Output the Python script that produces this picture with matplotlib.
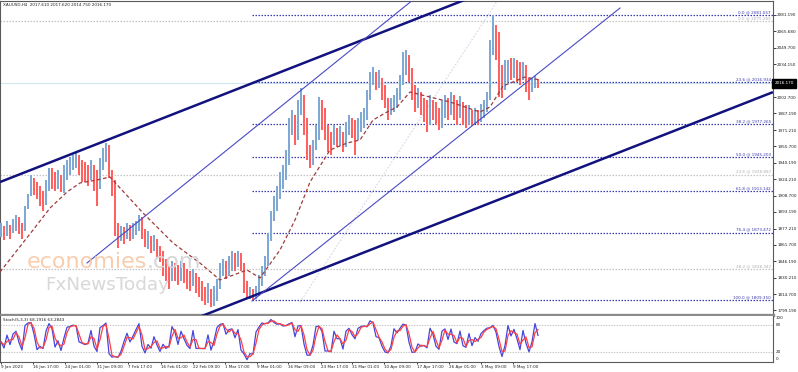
import numpy as np
import matplotlib
matplotlib.use("Agg")
import matplotlib.pyplot as plt
from matplotlib.transforms import blended_transform_factory as blend

# ---------------- data ----------------
header_text = "XAUUSD,H4  2017.610 2017.620 2014.750 2016.170"
stoch_text = "Stoch(5,3,3) 68.1916 63.2843"
last_price = 2016.17

bar_high = [
    1883.0, 1880.1, 1884.9, 1881.1, 1886.8, 1890.7, 1888.8, 1883.0, 1899.3, 1910.7,
    1928.0, 1925.1, 1921.3, 1917.5, 1913.6, 1923.2, 1934.7, 1934.7, 1930.9, 1932.8,
    1928.0, 1937.5, 1942.3, 1945.2, 1947.1, 1950.0, 1947.1, 1942.3, 1940.4, 1937.5,
    1942.3, 1937.5, 1932.8, 1944.4, 1953.8, 1958.6, 1956.7, 1932.8, 1923.2, 1883.0,
    1880.1, 1879.2, 1883.0, 1881.1, 1883.0, 1884.9, 1890.7, 1888.8, 1877.3, 1875.4,
    1870.6, 1871.6, 1867.7, 1861.0, 1856.2, 1848.6, 1841.9, 1846.7, 1844.8, 1842.9,
    1846.7, 1844.8, 1839.0, 1837.1, 1839.0, 1835.2, 1831.4, 1827.5, 1821.8, 1825.6,
    1819.9, 1822.7, 1829.4, 1844.8, 1848.6, 1846.7, 1851.4, 1856.2, 1854.3, 1856.2,
    1854.3, 1844.8, 1827.5, 1821.8, 1819.9, 1822.7, 1833.3, 1841.9, 1851.4, 1873.5,
    1894.5, 1908.8, 1918.4, 1930.9, 1937.5, 1951.9, 1982.5, 1990.2, 1985.4, 1999.7,
    2011.2, 2004.5, 1982.5, 1956.7, 1961.5, 1975.8, 2002.6, 1999.7, 1992.1, 1975.8,
    1969.1, 1975.8, 1973.0, 1974.8, 1969.1, 1978.7, 1985.4, 1982.5, 1980.6, 1982.5,
    1988.2, 1992.1, 2009.3, 2026.5, 2031.3, 2026.5, 2028.4, 2020.8, 2014.1, 2001.6,
    2001.6, 2004.5, 2011.2, 2023.7, 2045.7, 2047.6, 2042.8, 2030.4, 2014.1, 2011.2,
    2007.4, 2001.6, 1999.7, 2004.5, 1999.7, 1997.8, 1992.1, 1999.7, 2004.5, 2001.6,
    2007.4, 2004.5, 1999.7, 2003.6, 1997.8, 1995.0, 1995.0, 1990.2, 1992.1, 1990.2,
    1996.0, 1999.7, 2007.4, 2057.1, 2081.06, 2071.5, 2064.8, 2033.2, 2038.0, 2038.0,
    2039.9, 2039.9, 2038.0, 2036.1, 2036.1, 2033.2, 2020.8, 2020.8, 2022.7, 2019.8]

bar_low = [
    1869.6, 1866.8, 1870.6, 1867.7, 1873.5, 1875.4, 1872.5, 1867.7, 1875.4, 1896.4,
    1908.8, 1909.8, 1906.0, 1899.3, 1894.5, 1900.2, 1913.6, 1915.5, 1913.6, 1915.5,
    1912.6, 1911.7, 1923.2, 1928.0, 1932.8, 1934.7, 1928.0, 1921.3, 1921.3, 1918.4,
    1923.2, 1913.6, 1899.3, 1915.5, 1932.8, 1940.4, 1925.1, 1908.8, 1870.6, 1859.1,
    1865.8, 1863.0, 1867.7, 1865.8, 1867.7, 1871.6, 1875.4, 1867.7, 1860.0, 1858.1,
    1854.3, 1856.2, 1850.5, 1845.7, 1832.3, 1827.5, 1819.9, 1827.5, 1827.5, 1823.7,
    1827.5, 1825.6, 1819.9, 1818.0, 1822.7, 1816.1, 1812.2, 1808.4, 1804.6, 1806.5,
    1802.7, 1803.6, 1808.4, 1819.9, 1832.3, 1829.4, 1832.3, 1837.1, 1837.1, 1840.9,
    1837.1, 1816.1, 1810.5, 1810.0, 1809.35, 1810.3, 1813.2, 1822.7, 1832.3, 1841.9,
    1865.8, 1884.9, 1894.5, 1906.0, 1915.5, 1923.2, 1937.5, 1966.2, 1956.7, 1961.5,
    1985.4, 1966.2, 1942.3, 1934.7, 1937.5, 1951.9, 1961.5, 1971.0, 1961.5, 1949.9,
    1947.1, 1956.7, 1954.8, 1955.7, 1949.9, 1954.8, 1966.2, 1963.4, 1947.1, 1961.5,
    1969.1, 1972.9, 1980.6, 1999.7, 2014.1, 2009.3, 2011.2, 1999.7, 1992.1, 1980.6,
    1985.4, 1988.2, 1992.1, 1999.7, 2014.1, 2023.7, 2017.0, 1999.7, 1988.2, 1992.1,
    1985.4, 1978.7, 1969.1, 1975.8, 1980.6, 1975.8, 1971.0, 1972.9, 1982.5, 1980.6,
    1985.4, 1980.6, 1975.8, 1982.5, 1975.8, 1972.9, 1975.8, 1974.8, 1976.8, 1975.8,
    1978.7, 1982.5, 1988.2, 1999.7, 2042.8, 2038.0, 2002.6, 2001.6, 2009.3, 2017.0,
    2018.9, 2020.8, 2017.0, 2014.1, 2018.9, 2007.4, 1999.7, 2007.4, 2011.2, 2011.2]

bar_close = [
    1875.4, 1871.6, 1877.3, 1873.5, 1879.2, 1883.0, 1880.1, 1873.5, 1892.6, 1904.1,
    1920.3, 1915.5, 1911.7, 1907.9, 1902.1, 1913.6, 1928.0, 1925.1, 1920.3, 1923.2,
    1917.5, 1925.1, 1934.7, 1937.5, 1942.3, 1945.2, 1937.5, 1932.8, 1930.9, 1928.0,
    1934.7, 1923.2, 1908.8, 1932.8, 1942.3, 1951.9, 1930.9, 1913.6, 1880.1, 1865.8,
    1873.5, 1869.6, 1875.4, 1871.6, 1875.4, 1879.2, 1886.8, 1875.4, 1865.8, 1869.6,
    1861.0, 1865.8, 1858.1, 1851.4, 1845.7, 1837.1, 1832.3, 1841.9, 1837.1, 1832.3,
    1839.0, 1835.2, 1829.4, 1825.6, 1832.3, 1822.7, 1819.9, 1816.1, 1812.2, 1818.0,
    1808.4, 1813.2, 1822.7, 1837.1, 1841.9, 1837.1, 1844.8, 1848.6, 1844.8, 1850.5,
    1841.9, 1822.7, 1812.2, 1816.1, 1812.2, 1818.0, 1827.5, 1837.1, 1844.8, 1865.8,
    1889.7, 1899.3, 1908.8, 1923.2, 1928.0, 1942.3, 1971.0, 1980.6, 1966.2, 1990.2,
    1999.7, 1980.6, 1951.9, 1944.4, 1951.9, 1966.2, 1988.2, 1985.4, 1971.0, 1961.5,
    1956.7, 1966.2, 1961.5, 1965.3, 1956.7, 1969.1, 1975.8, 1972.9, 1966.2, 1972.9,
    1978.7, 1985.4, 1999.7, 2020.8, 2023.7, 2017.0, 2020.8, 2009.3, 1999.7, 1988.2,
    1992.1, 1997.8, 2001.6, 2014.1, 2036.1, 2038.0, 2028.4, 2009.3, 1999.7, 2004.5,
    1995.0, 1990.2, 1980.6, 1995.0, 1990.2, 1985.4, 1978.7, 1990.2, 1995.0, 1988.2,
    1999.7, 1992.1, 1988.2, 1995.0, 1985.4, 1982.5, 1988.2, 1980.6, 1985.4, 1982.5,
    1988.2, 1992.1, 1999.7, 2038.0, 2061.9, 2052.3, 2028.4, 2009.3, 2023.7, 2030.4,
    2026.5, 2033.2, 2028.4, 2020.8, 2030.4, 2018.9, 2007.4, 2014.1, 2018.9, 2016.17]

first_open = 1872.0
bar_every = 3          # one sampled H4 bar out of every 3

# moving average (position in H4 bars, price)
ma_pos = [0, 33, 50, 67, 80, 97, 110, 143, 173, 200, 220, 247, 260, 280, 295,
          310, 330, 347, 360, 373, 387, 397, 410, 430, 450, 480, 490, 503, 525, 540]
ma_val = [1835.9, 1875.9, 1896.9, 1912.2, 1920.8, 1923.7, 1926.5, 1892.2, 1863.6,
          1844.4, 1828.3, 1837.8, 1830.2, 1856.9, 1885.5, 1921.7, 1952.3, 1958.9,
          1961.8, 1980.9, 1988.5, 1993.3, 2007.6, 2002.8, 1998.1, 1988.5, 1993.3,
          2013.3, 2021.9, 2019.1]

# Fibonacci retracement (blue) anchored at 9 Mar low
fib_start = 252
fib_labels = ["0.0 @ 2081.057", "23.6 @ 2016.934", "38.2 @ 1977.265", "50.0 @ 1945.203",
              "61.8 @ 1913.142", "76.4 @ 1873.472", "100.0 @ 1809.350"]
fib_prices = [2081.057, 2016.934, 1977.265, 1945.203, 1913.142, 1873.472, 1809.350]
# older Fibonacci (grey)
fib2_labels = ["0.0 @ 2075.289", "23.6 @ 1928.887", "38.2 @ 1838.347"]
fib2_prices = [2075.289, 1928.887, 1838.347]

# trend channels: (bar position, price) anchors
thick_upper = ([0, 480], [1921.7, 2101.2])
thick_lower = ([200, 773], [1793.2, 2007.5])
thin_upper = ([87, 413], [1844.5, 2095.5])
thin_lower = ([252, 620], [1808.2, 2087.7])
faint_mid = ([300, 497], [1807.0, 2094.0])

price_ticks = [2081.190, 2065.680, 2049.700, 2034.150, 2002.700, 1987.190,
               1971.210, 1955.700, 1940.190, 1924.210, 1908.700, 1893.190, 1877.210,
               1861.700, 1846.190, 1830.210, 1814.700, 1799.190]

date_pos = [1, 33, 65, 97, 128, 161, 193, 225, 257, 288, 321, 352, 384, 417, 449, 481, 513]
date_labels = ["9 Jan 2023", "16 Jan 17:00", "24 Jan 01:00", "31 Jan 09:00", "7 Feb 17:00",
               "16 Feb 01:00", "22 Feb 09:00", "1 Mar 17:00", "9 Mar 01:00", "16 Mar 09:00",
               "23 Mar 17:00", "31 Mar 01:00", "10 Apr 09:00", "17 Apr 17:00",
               "26 Apr 01:00", "3 May 09:00", "9 May 17:00"]

# ---------------- figure ----------------
W, H = 798, 372
fig = plt.figure(figsize=(W / 100, H / 100), dpi=100)
fig.patch.set_facecolor("white")

ax = fig.add_axes([0, 1 - 315 / H, 773 / W, 314 / H])
ax2 = fig.add_axes([0, 1 - 361.5 / H, 773 / W, 45.5 / H])

ax.set_xlim(0, 773)
ax.set_ylim(1794.86, 2094.42)
ax2.set_xlim(0, 773)
ax2.set_ylim(0, 100)

FS = 3.0
edge = "#5a5a5a"

hi = np.array(bar_high); lo = np.array(bar_low); cl = np.array(bar_close)
n = len(cl)
pos = 1 + bar_every * np.arange(n)
op = np.concatenate([[first_open], cl[:-1]])
cols = np.where(cl >= op, "#7fa8d4", "#ff6060")

# grey fib lines (full width)
for p, lab in zip(fib2_prices, fib2_labels):
    ax.plot([0, 773], [p, p], color="#c4c4c4", lw=0.9, ls=(0, (1.2, 1.2)), zorder=1)
    ax.text(771, p + 0.8, lab, color="#b0b0b0", fontsize=FS, ha="right", va="bottom", zorder=5)

# bid line
ax.plot([0, 773], [last_price, last_price], color="#cfe6f0", lw=0.8, zorder=1)

# blue fib lines
for p, lab in zip(fib_prices, fib_labels):
    ax.plot([fib_start, 773], [p, p], color="#3b3bb0", lw=0.9, ls=(0, (1.2, 1.2)), zorder=2)
    ax.text(771, p + 0.8, lab, color="#3b3bb0", fontsize=FS, ha="right", va="bottom", zorder=5)

# faint dotted mid line
ax.plot(*faint_mid, color="#d6d6e6", lw=0.8, ls=(0, (1.5, 1.5)), zorder=1)

# bars
ax.vlines(pos, lo, hi, colors=cols, lw=1.45, zorder=3)

# moving average
ax.plot(ma_pos, ma_val, color="#a03c3c", lw=0.9, ls=(0, (3, 2)), zorder=4)

# channels
ax.plot(*thick_upper, color="#12127e", lw=1.8, zorder=4, solid_capstyle="butt")
ax.plot(*thick_lower, color="#12127e", lw=1.8, zorder=4, solid_capstyle="butt")
ax.plot(*thin_upper, color="#4a4ac4", lw=0.8, zorder=4)
ax.plot(*thin_lower, color="#4a4ac4", lw=0.8, zorder=4)

# watermark
fig.text(27 / W, 1 - 268 / H, "economies", color="#f8c8a4", fontsize=16, ha="left",
         va="baseline", zorder=0, alpha=0.9)
fig.text(147 / W, 1 - 268 / H, ".com", color="#d6d6d6", fontsize=16, ha="left",
         va="baseline", zorder=0)
fig.text(45 / W, 1 - 290 / H, "FxNewsToday", color="#d8d8d8", fontsize=13.2, ha="left",
         va="baseline", zorder=0)

# header
ax.text(3, 0.987, header_text, transform=blend(ax.transData, ax.transAxes),
        fontsize=FS, ha="left", va="center", color="#202020")

# right axis
ax.yaxis.tick_right()
ax.set_yticks(price_ticks)
ax.set_yticklabels([f"{v:.3f}" for v in price_ticks])
ax.tick_params(axis="y", direction="out", length=2, width=0.6, pad=1,
               labelsize=FS, colors="#202020")
ax.tick_params(axis="x", bottom=False, labelbottom=False)

# current price box
ax.text(1.002, last_price, f"{last_price:.3f}", transform=blend(ax.transAxes, ax.transData),
        fontsize=FS, color="white", ha="left", va="center", zorder=10, clip_on=False,
        bbox=dict(boxstyle="square,pad=0.6", facecolor="black", edgecolor="black"))

for s in ax.spines.values():
    s.set_color(edge); s.set_linewidth(0.8)
ax.spines["bottom"].set_color("#8c8c8c"); ax.spines["bottom"].set_linewidth(2.4)

# ---------------- stochastic ----------------
def stochastic(h, l, c, k=3, slow=1, d=2):
    num = np.zeros(len(c)); den = np.zeros(len(c))
    for i in range(len(c)):
        a = max(0, i - k + 1)
        ll = l[a:i + 1].min(); hh = h[a:i + 1].max()
        num[i] = c[i] - ll; den[i] = hh - ll
    K = np.zeros(len(c))
    for i in range(len(c)):
        a = max(0, i - slow + 1)
        dd = den[a:i + 1].sum()
        K[i] = 100 * num[a:i + 1].sum() / dd if dd > 0 else 50
    D = np.array([K[max(0, i - d + 1):i + 1].mean() for i in range(len(c))])
    return K, D

K, D = stochastic(hi, lo, cl)
ax2.axhline(80, color="#c4c4c4", lw=0.8, ls=(0, (1.2, 1.2)))
ax2.axhline(20, color="#c4c4c4", lw=0.8, ls=(0, (1.2, 1.2)))
ax2.plot(pos, K, color="#4646dc", lw=0.9, zorder=3)
ax2.plot(pos, D, color="#ff4040", lw=0.9, zorder=3)
ax2.text(3, 96, stoch_text, fontsize=FS, ha="left", va="top", color="#202020")

ax2.set_yticks([])
tr2 = blend(ax2.transAxes, ax2.transData)
for v, va in [(100, "top"), (80, "center"), (20, "center"), (0, "bottom")]:
    ax2.text(1.004, v, str(v), transform=tr2, fontsize=FS, ha="left", va=va, color="#202020")

ax2.set_xticks(date_pos)
ax2.set_xticklabels(date_labels, ha="left")
ax2.tick_params(axis="x", direction="out", length=1.5, width=0.6, pad=1,
                labelsize=FS, colors="#202020")
for s in ax2.spines.values():
    s.set_color(edge); s.set_linewidth(0.8)
ax2.spines["top"].set_visible(False)

fig.savefig("out.png", dpi=100, facecolor="white")
